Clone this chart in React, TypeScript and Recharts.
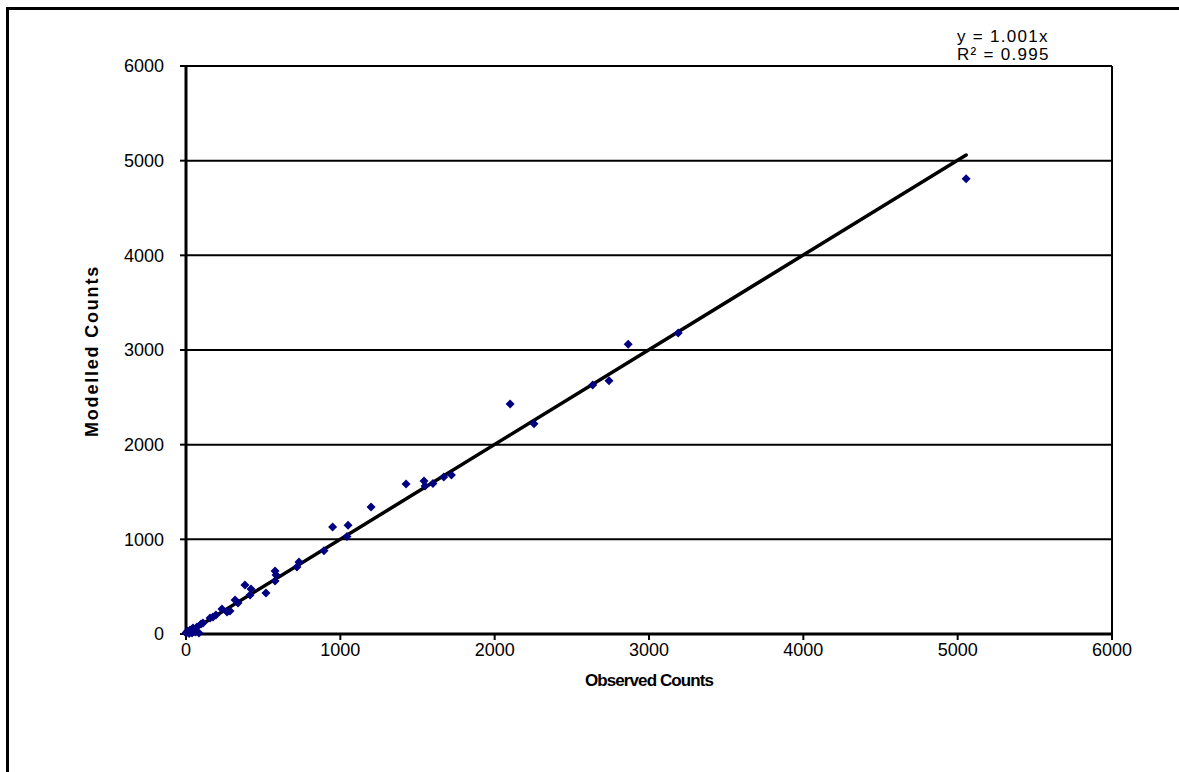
import React from 'react';
import { ScatterChart, Scatter, XAxis, YAxis, ZAxis, CartesianGrid, ReferenceLine } from 'recharts';

const observed = [0, 6, 10, 20, 26, 39, 45, 55, 60, 71, 84, 97, 110, 156, 175, 194, 233, 266, 285, 318, 337, 382, 421, 415, 518, 577, 583, 577, 719, 732, 894, 950, 1050, 1043, 1199, 1426, 1542, 1549, 1600, 1670, 1720, 2100, 2255, 2635, 2741, 2865, 3189, 5055];
const modelled = [10, 21, 30, 5, 42, 10, 63, 40, 20, 74, 11, 106, 116, 169, 180, 201, 264, 232, 243, 359, 327, 517, 475, 412, 433, 560, 623, 665, 708, 760, 880, 1130, 1150, 1030, 1341, 1584, 1616, 1563, 1590, 1658, 1679, 2430, 2222, 2630, 2676, 3062, 3180, 4810];
const ticks = [0, 1000, 2000, 3000, 4000, 5000, 6000];
const slope = 1.001;
const trendEnd = 5055;

const points = observed.map((x, i) => ({ x, y: modelled[i] }));
const trend = [0, trendEnd].map((x) => ({ x, y: x * slope }));

const font = '"Liberation Sans", Arial, sans-serif';

const Diamond = (props: any) => {
  const { cx, cy } = props;
  if (cx == null || cy == null) return <g />;
  const r = 4.5;
  return <polygon points={`${cx},${cy - r} ${cx + r},${cy} ${cx},${cy + r} ${cx - r},${cy}`} fill="#000080" />;
};

export default function App() {
  return (
    <div style={{ position: 'absolute', left: 0, top: 0, width: 1179, height: 772, overflow: 'hidden', background: '#fff', fontFamily: font }}>
      <div style={{ position: 'absolute', left: 6, top: 7, width: 1400, height: 1000, border: '3px solid #000', boxSizing: 'border-box' }} />
      <div style={{ position: 'absolute', left: 0, top: 0 }}>
        <ScatterChart width={1179} height={772} margin={{ top: 66, right: 67, bottom: 78, left: 106 }}>
          <CartesianGrid horizontal={true} vertical={false} stroke="#000" strokeWidth={2} strokeOpacity={1} />
          <XAxis
            type="number"
            dataKey="x"
            domain={[0, 6000]}
            ticks={ticks}
            interval={0}
            height={60}
            axisLine={{ stroke: '#000', strokeWidth: 3 }}
            tickLine={{ stroke: '#000', strokeWidth: 2 }}
            tickSize={6}
            tick={{ fill: '#000', fontSize: 18, fontFamily: font }}
            tickMargin={3}
          />
          <YAxis
            type="number"
            dataKey="y"
            domain={[0, 6000]}
            ticks={ticks}
            interval={0}
            width={80}
            axisLine={{ stroke: '#000', strokeWidth: 3 }}
            tickLine={{ stroke: '#000', strokeWidth: 2 }}
            tickSize={6}
            tick={{ fill: '#000', fontSize: 18, fontFamily: font }}
            tickMargin={16}
          />
          <ZAxis range={[40, 40]} />
          <ReferenceLine x={6000} stroke="#000" strokeWidth={2} />
          <Scatter
            data={trend}
            line={{ stroke: '#000', strokeWidth: 3.5, strokeLinecap: 'round' }}
            shape={() => <g />}
            isAnimationActive={false}
          />
          <Scatter data={points} fill="#000080" shape={<Diamond />} isAnimationActive={false} />
        </ScatterChart>
      </div>
      <div style={{ position: 'absolute', left: 649, top: 671, transform: 'translateX(-50%)', fontSize: 17, fontWeight: 'bold', letterSpacing: -0.9, whiteSpace: 'nowrap' }}>
        Observed Counts
      </div>
      <div style={{ position: 'absolute', left: 92, top: 351, transform: 'translate(-50%, -50%) rotate(-90deg)', fontSize: 18, fontWeight: 'bold', letterSpacing: 1.8, whiteSpace: 'nowrap' }}>
        Modelled Counts
      </div>
      <div style={{ position: 'absolute', left: 957, top: 28, fontSize: 17, lineHeight: '18px', letterSpacing: 1.3, whiteSpace: 'nowrap' }}>
        <div>y = 1.001x</div>
        <div>R² = 0.995</div>
      </div>
    </div>
  );
}
